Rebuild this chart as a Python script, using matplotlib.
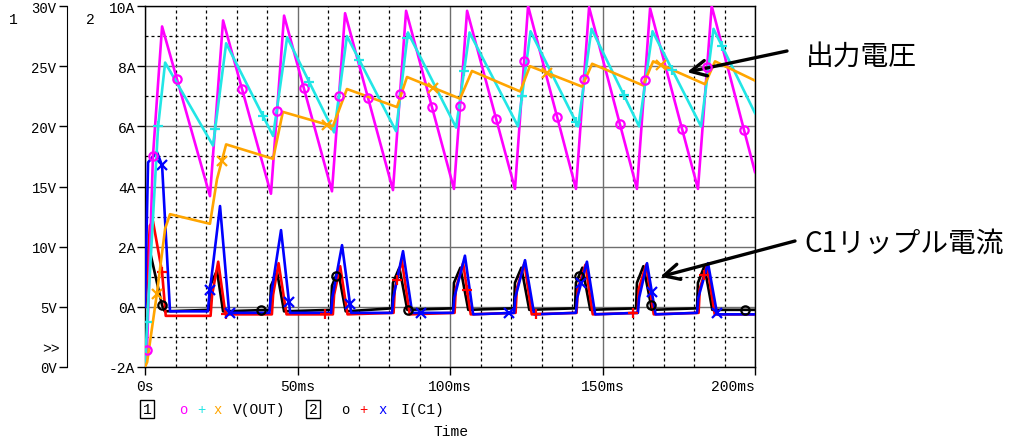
import numpy as np
import matplotlib.pyplot as plt

plt.rcParams['font.family'] = ['Liberation Mono', 'DejaVu Sans Mono']

# ==========================
# DATA (ms, V, A)
# ==========================
# V(OUT), three runs
t_mag = [0, 0.6, 2.6, 5.6, 21.3, 25.6, 41.3, 45.6, 61.3, 65.6, 81.3, 85.6,
         101.3, 105.6, 121.3, 125.6, 141.3, 145.6, 161.3, 165.6, 181.3, 185.8, 200]
v_mag = [0, 1.0, 17.5, 28.3, 14.2, 28.8, 14.4, 29.2, 14.6, 29.4, 14.7, 29.6,
         14.8, 29.6, 14.8, 30.0, 14.8, 29.9, 14.8, 29.8, 14.8, 30.0, 16.2]

t_cyn = [0, 0.7, 4.3, 6.6, 22.3, 26.6, 42.0, 46.6, 62.0, 66.2, 82.3, 86.2,
         102.0, 106.4, 122.3, 126.4, 142.0, 146.4, 162.0, 166.4, 182.3, 186.4, 200]
v_cyn = [0, 3.7, 20.0, 25.3, 18.4, 26.9, 19.2, 27.4, 19.5, 27.5, 19.6, 27.8,
         19.9, 27.8, 20.0, 27.9, 20.0, 28.1, 20.0, 27.9, 20.0, 28.1, 21.1]

t_org = [0, 0.7, 3.9, 6.6, 8.2, 21.3, 23.6, 26.6, 42.0, 45.2, 61.6, 66.2,
         82.6, 85.9, 103.3, 107.2, 123.0, 126.2, 143.3, 146.6, 163.3, 166.6,
         183.6, 186.9, 200]
v_org = [0, 0.4, 6.1, 11.5, 12.7, 11.9, 15.6, 18.5, 17.3, 21.2, 20.0, 23.1,
         21.6, 24.1, 22.3, 24.6, 22.9, 25.0, 23.3, 25.2, 23.4, 25.4,
         23.5, 25.4, 23.8]

# I(C1), three runs
t_blk = [0, 1.6, 5.6, 6.5, 21.0, 21.3, 23.6, 25.6, 41.0, 41.3, 43.3, 45.6,
         61.0, 61.3, 63.3, 65.8, 81.0, 81.3, 83.4, 86.0, 101.0, 101.3, 103.4, 106.0,
         121.0, 121.3, 123.4, 126.0, 141.0, 141.3, 143.4, 146.0, 161.0, 161.3, 163.4, 166.2,
         181.0, 181.3, 183.4, 186.0, 200]
i_blk = [0, 1.85, 0.05, -0.15, -0.1, 0.7, 1.2, -0.15, -0.1, 0.7, 1.15, -0.15,
         -0.1, 0.7, 1.2, -0.15, -0.05, 0.8, 1.3, -0.1, -0.05, 0.8, 1.3, -0.1,
         -0.05, 0.8, 1.3, -0.1, -0.05, 0.8, 1.3, -0.1, -0.05, 0.8, 1.35, -0.1,
         -0.05, 0.8, 1.35, -0.1, -0.1]

t_red = [0, 1.6, 2.6, 5.6, 6.8, 21.5, 22.0, 24.0, 26.4, 41.6, 42.0, 43.8, 46.4,
         61.6, 62.0, 64.0, 66.4, 81.5, 81.9, 84.2, 86.8, 101.5, 101.9, 104.3, 106.8,
         121.5, 121.9, 124.4, 126.8, 141.5, 141.9, 144.4, 146.8, 161.5, 161.9, 164.3, 166.8,
         181.5, 181.9, 184.3, 186.8, 200]
i_red = [0, 2.7, 2.85, 1.15, -0.3, -0.3, 0.4, 1.5, -0.25, -0.25, 0.4, 1.45, -0.25,
         -0.25, 0.4, 1.35, -0.25, -0.2, 0.6, 1.55, -0.25, -0.2, 0.6, 1.45, -0.25,
         -0.2, 0.6, 1.45, -0.25, -0.2, 0.6, 1.4, -0.25, -0.2, 0.6, 1.4, -0.25,
         -0.2, 0.6, 1.4, -0.25, -0.25]

t_blu = [0, 1.0, 3.9, 5.6, 8.2, 20.6, 21.0, 24.6, 27.6, 40.8, 41.2, 44.6, 47.6,
         61.0, 61.4, 64.6, 67.6, 81.0, 81.4, 84.6, 87.6, 101.0, 101.4, 104.9, 107.6,
         121.0, 121.4, 124.6, 127.6, 141.3, 141.7, 144.9, 147.6, 161.6, 162.0, 164.6, 167.4,
         181.0, 181.4, 184.6, 187.6, 200]
i_blu = [0, 4.8, 5.15, 4.7, -0.15, -0.15, 0.3, 3.35, -0.2, -0.2, 0.3, 2.55, -0.2,
         -0.2, 0.3, 2.05, -0.2, -0.2, 0.3, 1.85, -0.2, -0.2, 0.3, 1.7, -0.25,
         -0.2, 0.3, 1.55, -0.25, -0.2, 0.3, 1.5, -0.25, -0.2, 0.3, 1.45, -0.25,
         -0.2, 0.3, 1.45, -0.25, -0.25]

# marker times on each trace
mk_mag = [0.65, 2.6, 10.5, 31.8, 43.3, 52.1, 63.6, 73.1, 83.6, 94.1, 103.3,
          115.1, 124.3, 135.1, 143.9, 155.7, 163.9, 176.1, 184.3, 196.4]
mk_cyn = [0.7, 4.3, 23.0, 38.7, 53.8, 70.2, 86.0, 104.6, 123.6, 141.3,
          157.0, 172.8, 189.2]
mk_org = [3.9, 25.2, 59.7, 94.4, 131.8, 169.2]
mk_blk = [5.6, 38.0, 62.6, 86.2, 142.3, 165.9, 196.7]
mk_red = [5.6, 26.6, 59.0, 82.6, 105.6, 128.2, 160.0, 183.3]
mk_blu = [5.6, 21.3, 27.9, 47.2, 67.2, 90.5, 119.3, 143.0, 166.2, 187.5]

x_ticks = [0, 50, 100, 150, 200]
x_labels = ['0s', '50ms', '100ms', '150ms', '200ms']
i_ticks = [-2, 0, 2, 4, 6, 8, 10]
i_labels = ['-2A', '0A', '2A', '4A', '6A', '8A', '10A']
v_ticks = [0, 5, 10, 15, 20, 25, 30]
v_labels = ['0V', '5V', '10V', '15V', '20V', '25V', '30V']

# ==========================
# FIGURE
# ==========================
W, H = 1010, 439


def fx(x):
    return x / W


def fy(y):
    return 1 - y / H


fig = plt.figure(figsize=(W / 100, H / 100), dpi=100)
ax = fig.add_axes([145 / W, 71 / H, 610 / W, 361 / H])
ax.set_xlim(0, 200)
ax.set_ylim(-2, 10)

ax.set_xticks(x_ticks)
ax.set_xticklabels(x_labels, fontsize=10.5)
ax.set_xticks(np.arange(0, 201, 10), minor=True)
ax.set_yticks(i_ticks)
ax.set_yticklabels(i_labels, fontsize=10.5)
ax.set_yticks(np.arange(-2, 11, 1), minor=True)
ax.xaxis.get_majorticklabels()[-1].set_horizontalalignment('right')
ax.xaxis.get_majorticklabels()[-1].set_x(203)

ax.grid(which='major', color='#6e6e6e', lw=1.0, ls='-')
ax.grid(which='minor', color='black', lw=0.9, ls=(0, (2.4, 2.4)))
ax.tick_params(which='minor', length=0)
ax.tick_params(axis='y', which='major', length=6, width=1, pad=1)
ax.tick_params(axis='x', which='major', length=6, width=1, pad=3)
for s in ax.spines.values():
    s.set_linewidth(1.0)

# voltage axis (axis 1)
ax_v = ax.twinx()
ax_v.set_ylim(0, 30)
ax_v.set_yticks(v_ticks)
ax_v.set_yticklabels(v_labels, fontsize=10.5)
ax_v.yaxis.set_ticks_position('left')
ax_v.spines['left'].set_visible(True)
ax_v.spines['left'].set_position(('axes', -78 / 610))
for side in ['right', 'top', 'bottom']:
    ax_v.spines[side].set_visible(False)
ax_v.tick_params(axis='y', length=6, width=1, pad=1.5)

lw = 1.9

# currents
for t, i, mk, col, m in [(t_blk, i_blk, mk_blk, 'black', 'o'),
                         (t_red, i_red, mk_red, '#ff0000', '+'),
                         (t_blu, i_blu, mk_blu, '#0000ff', 'x')]:
    ax.plot(t, i, color=col, lw=lw, zorder=3)
    ax.plot(mk, np.interp(mk, t, i), ls='none', marker=m, color=col,
            mfc='none', ms=7 if m != 'o' else 6, mew=1.6, zorder=4)

# voltages
for t, v, mk, col, m in [(t_mag, v_mag, mk_mag, '#ff00ff', 'o'),
                         (t_cyn, v_cyn, mk_cyn, '#22e6e6', '+'),
                         (t_org, v_org, mk_org, '#ffa500', 'x')]:
    ax_v.plot(t, v, color=col, lw=lw, zorder=3)
    ax_v.plot(mk, np.interp(mk, t, v), ls='none', marker=m, color=col,
              mfc='none', ms=7 if m != 'o' else 6, mew=1.6, zorder=4)

# ==========================
# TEXTS
# ==========================
fig.text(fx(13), fy(20), '1', fontsize=10.5, ha='center', va='center')
fig.text(fx(90), fy(20), '2', fontsize=10.5, ha='center', va='center')
fig.text(fx(60), fy(349), '>>', fontsize=10.5, ha='right', va='center')

ly = fy(410)
box = dict(boxstyle='square,pad=0.15', fc='white', ec='black', lw=1)
fig.text(fx(147), ly, '1', fontsize=10.5, ha='center', va='center', bbox=box)
fig.text(fx(183), ly, 'o', fontsize=10, ha='center', va='center', color='#ff00ff')
fig.text(fx(201), ly, '+', fontsize=10, ha='center', va='center', color='#22e6e6')
fig.text(fx(218), ly, 'x', fontsize=10, ha='center', va='center', color='#ffa500')
fig.text(fx(233), ly, 'V(OUT)', fontsize=10.5, ha='left', va='center')
fig.text(fx(313), ly, '2', fontsize=10.5, ha='center', va='center', bbox=box)
fig.text(fx(345), ly, 'o', fontsize=10, ha='center', va='center', color='black')
fig.text(fx(363), ly, '+', fontsize=10, ha='center', va='center', color='#ff0000')
fig.text(fx(383), ly, 'x', fontsize=10, ha='center', va='center', color='#0000ff')
fig.text(fx(400), ly, 'I(C1)', fontsize=10.5, ha='left', va='center')
fig.text(fx(451), fy(432), 'Time', fontsize=10.5, ha='center', va='center')

# callouts
arrow = dict(arrowstyle='->', lw=2.4, color='black', shrinkA=0, shrinkB=0,
             mutation_scale=28)
ax_v.annotate('', xy=(177.7, 24.5), xycoords='data',
              xytext=(fx(787), fy(52)), textcoords='figure fraction',
              arrowprops=arrow, annotation_clip=False)
ax.annotate('', xy=(168.9, 1.0), xycoords='data',
            xytext=(fx(795), fy(242)), textcoords='figure fraction',
            arrowprops=arrow, annotation_clip=False)
jp = ['Noto Sans CJK JP', 'DejaVu Sans']
fig.text(fx(806), fy(57), '出力電圧', fontsize=20, family=jp,
         ha='left', va='center')
fig.text(fx(804), fy(244), 'C1リップル電流', fontsize=20, family=jp,
         ha='left', va='center')

fig.savefig('out.png', dpi=100)
